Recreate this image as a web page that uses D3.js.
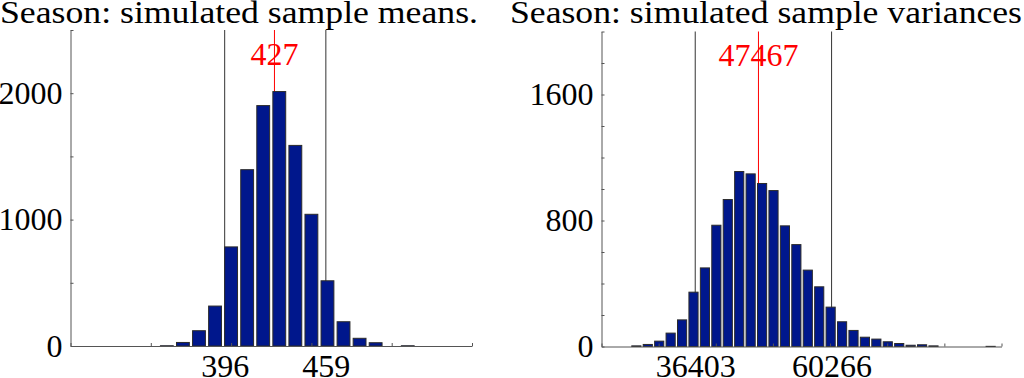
<!DOCTYPE html>
<html>
<head>
<meta charset="utf-8">
<script src="https://cdn.jsdelivr.net/npm/d3@7"></script>
<style>
  html, body { margin: 0; padding: 0; background: #fff; }
  svg { display: block; }
  text { font-family: "Liberation Serif", "DejaVu Serif", serif; }
</style>
</head>
<body>
<div id="chart"></div>
<script>
// left panel: sample means
const meanCenters = [360, 370, 380, 390, 400, 410, 420, 430, 440, 450, 460, 470, 480, 490, 500, 510];
const meanCounts  = [2, 28, 121, 316, 784, 1395, 1902, 2013, 1587, 1042, 516, 192, 61, 26, 0, 2];
const meanQuant = [396, 459];
const meanMid = 427;
const meanXTicks = [300, 350, 400, 450, 500, 550];
const meanYTicks = [0, 500, 1000, 1500, 2000, 2500];
const meanYLabels = [0, 1000, 2000];

// right panel: sample variances
const varCenters = [26100, 28100, 30100, 32100, 34100, 36100, 38100, 40100, 42100, 44100,
                    46100, 48100, 50100, 52100, 54100, 56100, 58100, 60100, 62100, 64100,
                    66100, 68100, 70100, 72100, 74100, 76100, 78100, 80100, 82100, 84100,
                    86100, 88100];
const varCounts  = [4, 13, 34, 85, 169, 345, 499, 770, 933, 1111,
                    1096, 1035, 990, 766, 647, 485, 379, 250, 157, 102,
                    59, 47, 30, 19, 8, 11, 4, 0, 0, 0,
                    0, 1];
const varQuant = [36403, 60266];
const varMid = 47467;
const varXTicks = [20000, 30000, 40000, 50000, 60000, 70000, 80000, 90000];
const varYTicks = [0, 200, 400, 600, 800, 1000, 1200, 1400, 1600, 1800, 2000];
const varYLabels = [0, 800, 1600];

const width = 1024, height = 378;
const fontSize = 32;

const svg = d3.select('#chart').append('svg')
  .attr('width', width)
  .attr('height', height);

function panel(cfg) {
  const x = d3.scaleLinear().domain(cfg.xDomain).range([cfg.left, cfg.right]);
  const y = d3.scaleLinear().domain(cfg.yDomain).range([cfg.bottom, cfg.top]);
  const g = svg.append('g');

  // title, stretched to the original's width
  g.append('text')
    .attr('x', cfg.titleX)
    .attr('y', 23)
    .attr('font-size', fontSize)
    .attr('textLength', cfg.titleW)
    .attr('lengthAdjust', 'spacingAndGlyphs')
    .text(cfg.title);

  // quantile lines (behind bars)
  g.selectAll('line.q')
    .data(cfg.quant)
    .join('line')
      .attr('class', 'q')
      .attr('x1', d => x(d)).attr('x2', d => x(d))
      .attr('y1', y(0)).attr('y2', cfg.top)
      .attr('stroke', '#333').attr('stroke-width', 1);

  g.append('line')
    .attr('x1', x(cfg.mid)).attr('x2', x(cfg.mid))
    .attr('y1', y(0)).attr('y2', cfg.top)
    .attr('stroke', '#ff0000').attr('stroke-width', 1);

  const bw = cfg.binW * 0.8;
  g.selectAll('rect')
    .data(cfg.centers.map((c, i) => ({c, n: cfg.counts[i]})))
    .join('rect')
      .attr('x', d => x(d.c - bw / 2))
      .attr('width', x(bw) - x(0))
      .attr('y', d => y(d.n))
      .attr('height', d => y(0) - y(d.n))
      .attr('fill', '#00178c')
      .attr('stroke', '#2b2b2b')
      .attr('stroke-width', 1);

  // y axis
  const ya = g.append('g')
    .attr('transform', `translate(${cfg.left},0)`)
    .call(d3.axisLeft(y).tickValues(cfg.yTicks).tickSizeInner(-3).tickSizeOuter(0)
      .tickPadding(8).tickFormat(d => cfg.yLabels.includes(d) ? d : ''));

  // x axis tick marks
  const xa = g.append('g')
    .attr('transform', `translate(0,${cfg.bottom})`)
    .call(d3.axisBottom(x).tickValues(cfg.xTicks).tickSizeInner(-3).tickSizeOuter(0)
      .tickFormat(''));

  // x labels at the quantiles
  g.append('g')
    .attr('transform', `translate(0,${cfg.bottom})`)
    .call(d3.axisBottom(x).tickValues(cfg.quant).tickSize(0).tickPadding(8)
      .tickFormat(d => d))
    .call(a => a.select('.domain').remove());

  [ya, xa].forEach(a => {
    a.selectAll('.domain, line').attr('stroke', '#555').attr('stroke-width', 1);
  });
  g.selectAll('.tick text')
    .attr('font-size', fontSize)
    .attr('font-family', null)
    .attr('fill', '#000');

  g.append('text')
    .attr('x', x(cfg.mid))
    .attr('y', y(cfg.yDomain[1] * 0.89))
    .attr('text-anchor', 'middle')
    .attr('font-size', fontSize)
    .attr('fill', '#ff0000')
    .text(cfg.mid);
}

panel({
  title: 'Season: simulated sample means.', titleX: 0, titleW: 478,
  left: 70.5, right: 472, top: 30, bottom: 346,
  xDomain: [300, 550], yDomain: [0, 2500], binW: 10,
  centers: meanCenters, counts: meanCounts,
  quant: meanQuant, mid: meanMid,
  xTicks: meanXTicks, yTicks: meanYTicks, yLabels: meanYLabels
});

panel({
  title: 'Season: simulated sample variances', titleX: 510, titleW: 512,
  left: 601.5, right: 1001.5, top: 31.5, bottom: 346.5,
  xDomain: [20000, 90000], yDomain: [0, 2000], binW: 2000,
  centers: varCenters, counts: varCounts,
  quant: varQuant, mid: varMid,
  xTicks: varXTicks, yTicks: varYTicks, yLabels: varYLabels
});
</script>
</body>
</html>
